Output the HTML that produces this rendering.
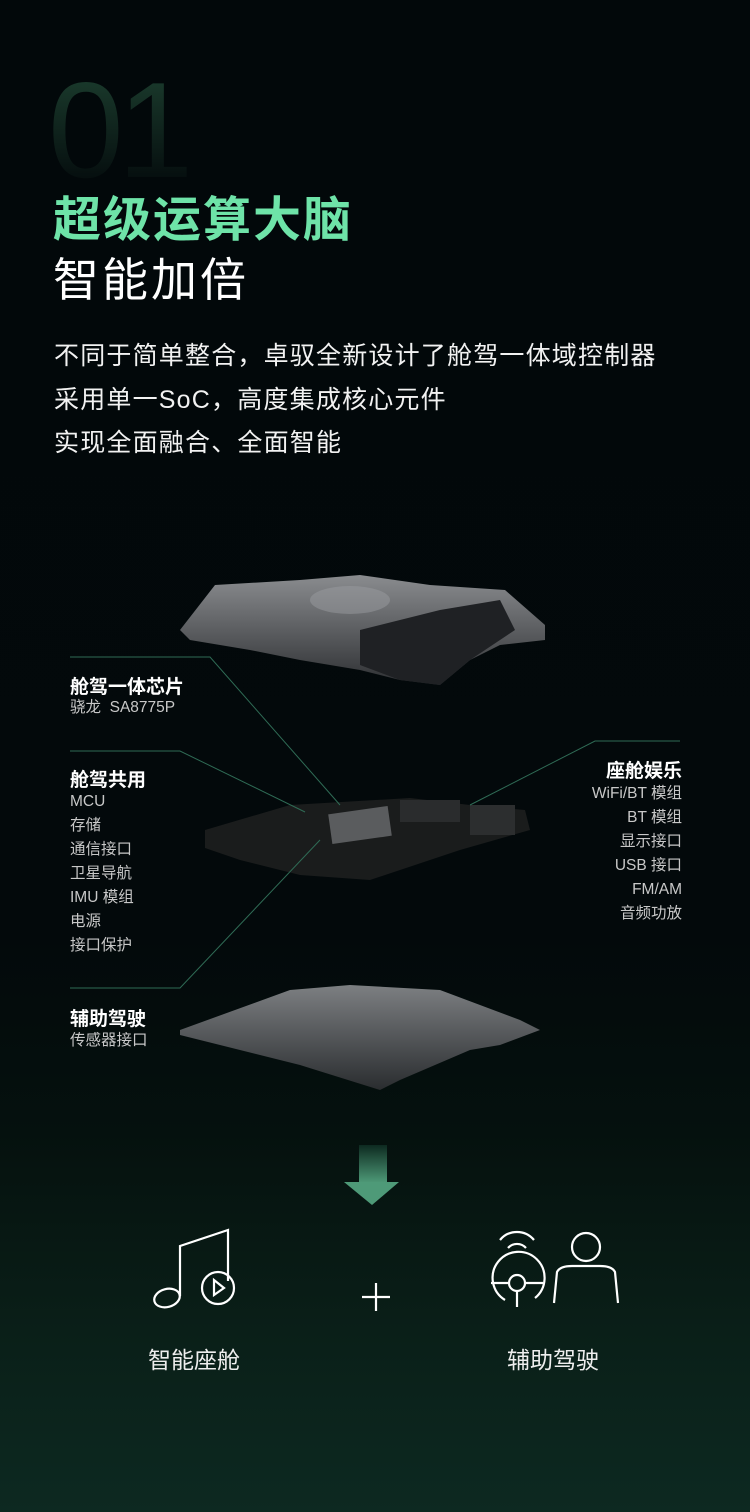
<!DOCTYPE html>
<html><head><meta charset="utf-8"><style>
body{margin:0;width:750px;height:1512px;overflow:hidden;font-family:"Liberation Sans","Noto Sans CJK SC",sans-serif;
background:linear-gradient(180deg,#02080a 0%,#03090b 62%,#05110e 75%,#0a1f18 88%,#0d2921 100%);color:#fff;position:relative}
.a{position:absolute;white-space:nowrap}
.big{left:48px;top:62px;font-size:136px;line-height:136px;font-weight:300;color:transparent;background:linear-gradient(180deg,#1d4030,#03090b 95%);-webkit-background-clip:text;background-clip:text;letter-spacing:-6px}
.h1{left:53px;top:180px;font-size:48px;font-weight:700;color:#6ee3a8;letter-spacing:2px}
.h2{left:53px;top:244px;font-size:46px;color:#fff;letter-spacing:3px}
.p{left:54px;font-size:25px;color:#f2f2f2;letter-spacing:1.2px}
.lb{font-size:19px;font-weight:700;color:#fff}
.li{font-size:15.5px;color:#c8c8c8;line-height:24px}
.ft{font-size:23px;color:#eee}
</style></head><body>
<div class="a big">01</div>
<div class="a h1">超级运算大脑</div>
<div class="a h2">智能加倍</div>
<div class="a p" style="top:336px">不同于简单整合，卓驭全新设计了舱驾一体域控制器</div>
<div class="a p" style="top:380px">采用单一SoC，高度集成核心元件</div>
<div class="a p" style="top:423px">实现全面融合、全面智能</div>

<svg class="a" style="left:0;top:0" width="750" height="1512">
<defs>
<linearGradient id="m" x1="0" y1="0" x2="0" y2="1"><stop offset="0" stop-color="#8a8c8f"/><stop offset="1" stop-color="#2e3033"/></linearGradient>
<linearGradient id="ar" x1="0" y1="0" x2="0" y2="1"><stop offset="0" stop-color="#0d2a20"/><stop offset="1" stop-color="#4e9a78"/></linearGradient>
</defs>
<polygon points="180,630 215,585 300,580 360,575 430,585 505,590 545,625 545,640 500,645 470,660 440,685 400,680 360,670 300,660 250,650 190,640" fill="url(#m)"/>
<polygon points="360,630 440,610 500,600 515,630 470,660 440,685 400,680 360,665" fill="#1f2124"/>
<ellipse cx="350" cy="600" rx="40" ry="14" fill="#9a9ca0" opacity=".5"/>
<polygon points="205,830 290,805 410,798 470,805 525,810 530,830 460,850 370,880 300,875 240,860 205,848" fill="#1a1c1c"/>
<rect x="330" y="810" width="60" height="30" fill="#5a5c5e" transform="rotate(-8 360 825)"/>
<rect x="400" y="800" width="60" height="22" fill="#2a2c2d"/>
<rect x="470" y="805" width="45" height="30" fill="#2c2e2f"/>
<polygon points="180,1030 290,990 350,985 440,990 520,1020 540,1030 500,1045 470,1050 400,1080 380,1090 300,1065 240,1050 180,1035" fill="url(#m)" opacity=".9"/>
<g stroke="#2f6b55" stroke-width="1" fill="none">
<polyline points="70,657 210,657 340,805"/>
<polyline points="70,751 180,751 305,812"/>
<polyline points="70,988 180,988 320,840"/>
<polyline points="680,741 595,741 470,805"/>
</g>
<rect x="359" y="1145" width="28" height="38" fill="url(#ar)"/>
<polygon points="344,1182 399,1182 372,1205" fill="#4e9a78"/>
<g stroke="#fff" stroke-width="2.2" fill="none">
<ellipse cx="167" cy="1298" rx="13" ry="9" transform="rotate(-15 167 1298)"/>
<polyline points="180,1296 180,1246 228,1230 228,1281"/>
<circle cx="218" cy="1288" r="16"/>
<polygon points="214,1280 214,1295 224,1288"/>
<line x1="362" y1="1297" x2="390" y2="1297"/><line x1="376" y1="1283" x2="376" y2="1311"/>
<path d="M500,1240 A22,22 0 0 1 534,1240"/><path d="M508,1248 A12,12 0 0 1 526,1248"/>
<path d="M505,1300 A26,26 0 1 1 535,1298"/>
<circle cx="517" cy="1283" r="8"/>
<line x1="491" y1="1283" x2="509" y2="1283"/><line x1="525" y1="1283" x2="543" y2="1283"/><line x1="517" y1="1291" x2="517" y2="1307"/>
<circle cx="586" cy="1247" r="14"/>
<path d="M554,1303 L557,1272 Q560,1266 572,1266 L600,1266 Q612,1266 615,1272 L618,1303"/>
</g>
</svg>

<div class="a lb" style="left:70px;top:672px">舱驾一体芯片</div>
<div class="a li" style="left:70px;top:696px">骁龙&nbsp; SA8775P</div>
<div class="a lb" style="left:70px;top:765px">舱驾共用</div>
<div class="a li" style="left:70px;top:790px">MCU<br>存储<br>通信接口<br>卫星导航<br>IMU 模组<br>电源<br>接口保护</div>
<div class="a lb" style="left:70px;top:1004px">辅助驾驶</div>
<div class="a li" style="left:70px;top:1029px">传感器接口</div>
<div class="a lb" style="right:68px;top:756px;text-align:right">座舱娱乐</div>
<div class="a li" style="right:68px;top:782px;text-align:right">WiFi/BT 模组<br>BT 模组<br>显示接口<br>USB 接口<br>FM/AM<br>音频功放</div>
<div class="a ft" style="left:148px;top:1341px">智能座舱</div>
<div class="a ft" style="left:507px;top:1341px">辅助驾驶</div>
</body></html>
